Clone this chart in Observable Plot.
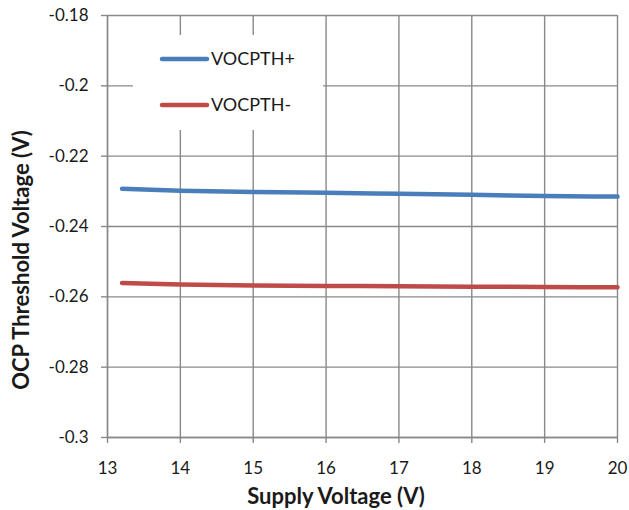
<!DOCTYPE html>
<html>
<head>
<meta charset="utf-8">
<script src="https://cdn.jsdelivr.net/npm/d3@7"></script>
<script src="https://cdn.jsdelivr.net/npm/@observablehq/plot@0.6"></script>
<style>
  html, body { margin: 0; padding: 0; background: #fff; }
  #chart svg { display: block; }
</style>
</head>
<body>
<div id="chart"></div>
<script>
// Supply voltage sweep (V)
const supply = [13.2, 14, 15, 16, 17, 18, 19, 20];
// OCP threshold, rising and falling (V)
const vocpthPlus = [-0.2293, -0.2298, -0.2302, -0.2304, -0.2307, -0.2310, -0.2313, -0.2315];
const vocpthMinus = [-0.2561, -0.2565, -0.2568, -0.2569, -0.2570, -0.2571, -0.2572, -0.2573];

const seriesNames = ["VOCPTH+", "VOCPTH-"];
const seriesColors = ["#4a7ebb", "#be4b48"];

const xTicks = [13, 14, 15, 16, 17, 18, 19, 20];
const yTicks = [-0.18, -0.2, -0.22, -0.24, -0.26, -0.28, -0.3];

const rows = [
  ...supply.map((v, i) => ({x: v, y: vocpthPlus[i], s: seriesNames[0]})),
  ...supply.map((v, i) => ({x: v, y: vocpthMinus[i], s: seriesNames[1]}))
];

const gridColor = "#898989";
const textColor = "#1a1a1a";
const font = "Lato, 'Open Sans', sans-serif";

const plot = Plot.plot({
  width: 629,
  height: 510,
  marginLeft: 107,
  marginRight: 12,
  marginTop: 15,
  marginBottom: 73,
  style: {fontFamily: font, fontSize: "17px", color: textColor, background: "#fff"},
  x: {domain: [13, 20]},
  y: {domain: [-0.3, -0.18]},
  color: {domain: seriesNames, range: seriesColors},
  marks: [
    Plot.gridX(xTicks, {stroke: gridColor, strokeOpacity: 1, strokeWidth: 1.4}),
    Plot.gridY(yTicks, {stroke: gridColor, strokeOpacity: 1, strokeWidth: 1.4}),
    Plot.axisX({ticks: xTicks, tickSize: 6, tickPadding: 18, stroke: gridColor, strokeWidth: 1.4,
      tickFormat: d => String(d), label: null, fontSize: 17, fill: textColor}),
    Plot.axisY({ticks: yTicks, tickSize: 6, tickPadding: 13, stroke: gridColor, strokeWidth: 1.4,
      tickFormat: d => String(d), label: null, fontSize: 17, fill: textColor}),
    Plot.ruleX([13], {stroke: gridColor, strokeWidth: 1.4}),
    Plot.ruleY([-0.3], {stroke: gridColor, strokeWidth: 1.4}),
    Plot.line(rows, {x: "x", y: "y", z: "s", stroke: "s", strokeWidth: 4.5, curve: "monotone-x"})
  ]
});

const svg = d3.select(plot);

// Axis titles
svg.append("text")
  .attr("x", 336).attr("y", 504)
  .attr("text-anchor", "middle")
  .attr("font-family", font).attr("font-size", 22).attr("font-weight", "bold")
  .attr("fill", textColor)
  .text("Supply Voltage (V)");

svg.append("text")
  .attr("transform", "translate(29,260) rotate(-90)")
  .attr("text-anchor", "middle")
  .attr("font-family", font).attr("font-size", 22).attr("font-weight", "bold")
  .attr("fill", textColor)
  .text("OCP Threshold Voltage (V)");

// Legend box over the grid
const lg = svg.append("g");
lg.append("rect").attr("x", 133).attr("y", 35).attr("width", 190).attr("height", 95).attr("fill", "#fff");
seriesNames.forEach((name, i) => {
  const cy = 59 + i * 46;
  lg.append("line")
    .attr("x1", 162).attr("x2", 207).attr("y1", cy).attr("y2", cy)
    .attr("stroke", seriesColors[i]).attr("stroke-width", 4.5).attr("stroke-linecap", "round");
  lg.append("text")
    .attr("x", 211).attr("y", cy).attr("dy", "0.35em")
    .attr("text-anchor", "start")
    .attr("font-family", font).attr("font-size", 18).attr("fill", textColor)
    .text(name);
});

document.getElementById("chart").appendChild(plot);
</script>
</body>
</html>
